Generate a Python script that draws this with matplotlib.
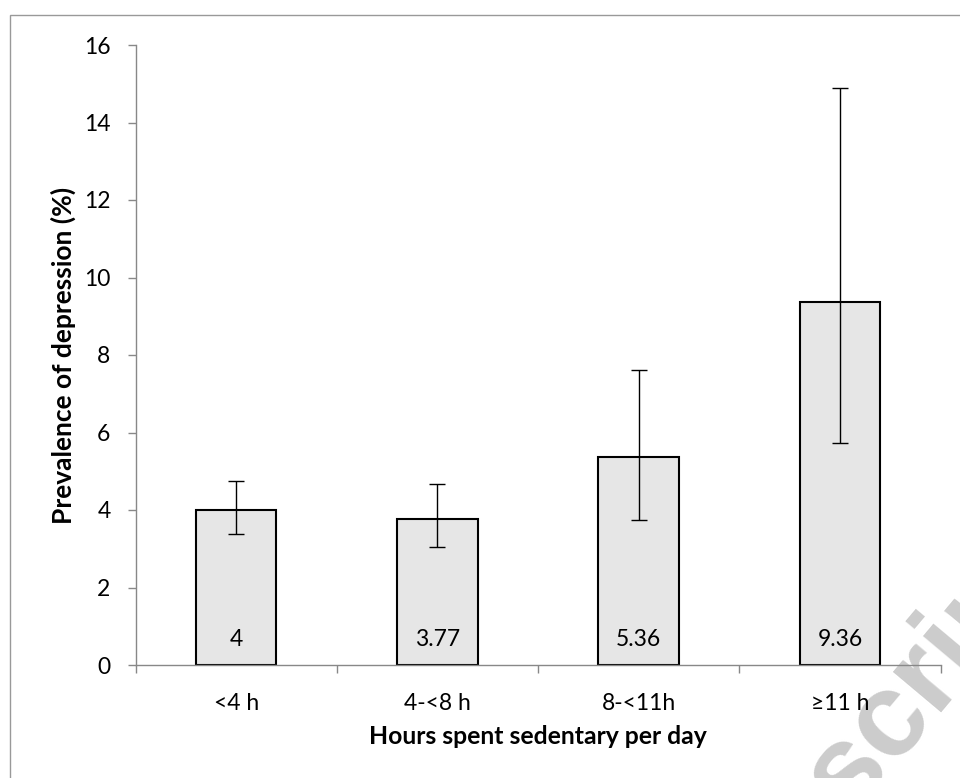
import matplotlib.pyplot as plt
from matplotlib.patches import Rectangle

# Data
categories = ["<4 h", "4-<8 h", "8-<11h", "\u226511 h"]
prevalence = [4, 3.77, 5.36, 9.36]
ci_low = [3.38, 3.05, 3.74, 5.74]
ci_high = [4.75, 4.68, 7.62, 14.9]
value_labels = ["4", "3.77", "5.36", "9.36"]

plt.rcParams['font.family'] = ['Lato', 'DejaVu Sans']

fig = plt.figure(figsize=(9.6, 7.78), dpi=100)
ax = fig.add_axes([135.5 / 960, 1 - 665 / 778, (940.7 - 135.5) / 960, (665 - 45) / 778])
ax.patch.set_alpha(0)

x = list(range(len(categories)))
yerr = [[p - lo for p, lo in zip(prevalence, ci_low)],
        [hi - p for p, hi in zip(prevalence, ci_high)]]

ax.bar(x, prevalence, width=0.4, color="#e6e6e6", edgecolor="black", linewidth=1.5, zorder=2)
ax.errorbar(x, prevalence, yerr=yerr, fmt="none", ecolor="black", elinewidth=1,
            capsize=6, capthick=1, zorder=3)

for xi, lab in zip(x, value_labels):
    ax.text(xi, 0.67, lab, ha="center", va="center", fontsize=16.5, zorder=4)

ax.set_xlim(-0.5, 3.5)
ax.set_ylim(0, 16)
ax.set_yticks(range(0, 17, 2))
ax.set_xticks([i + 0.5 for i in range(-1, 4)], minor=False)
ax.set_xticklabels([])
ax.set_xticks(x, minor=True)
ax.set_xticklabels(categories, minor=True)
ax.tick_params(axis="x", which="minor", length=0, pad=20, labelsize=16.5)
ax.tick_params(axis="x", which="major", length=6, width=1, color="#888888", direction="out")
ax.tick_params(axis="y", length=6, width=1, color="#888888", labelsize=16.5, pad=12)

for side in ["top", "right"]:
    ax.spines[side].set_visible(False)
for side in ["left", "bottom"]:
    ax.spines[side].set_color("#888888")
    ax.spines[side].set_linewidth(1)

ax.set_xlabel("Hours spent sedentary per day", fontsize=17.8, fontweight="bold", labelpad=8)
ax.set_ylabel("Prevalence of depression (%)", fontsize=19, fontweight="bold")
ax.yaxis.set_label_coords(-0.074, 0.5)

# outer frame and watermark
fig.patches.append(Rectangle((10 / 960, -0.1), 1.2, 1 - 15 / 778 + 0.1, transform=fig.transFigure,
                             fill=False, edgecolor="#999999", linewidth=1))
fig.text(648 / 960, 1 - 1053 / 778, "Manuscript", fontsize=86, fontweight="bold", color="#cccccc",
         family="Liberation Sans", rotation=50, rotation_mode="anchor",
         ha="left", va="baseline", zorder=-1)

fig.savefig("out.png", dpi=100)
